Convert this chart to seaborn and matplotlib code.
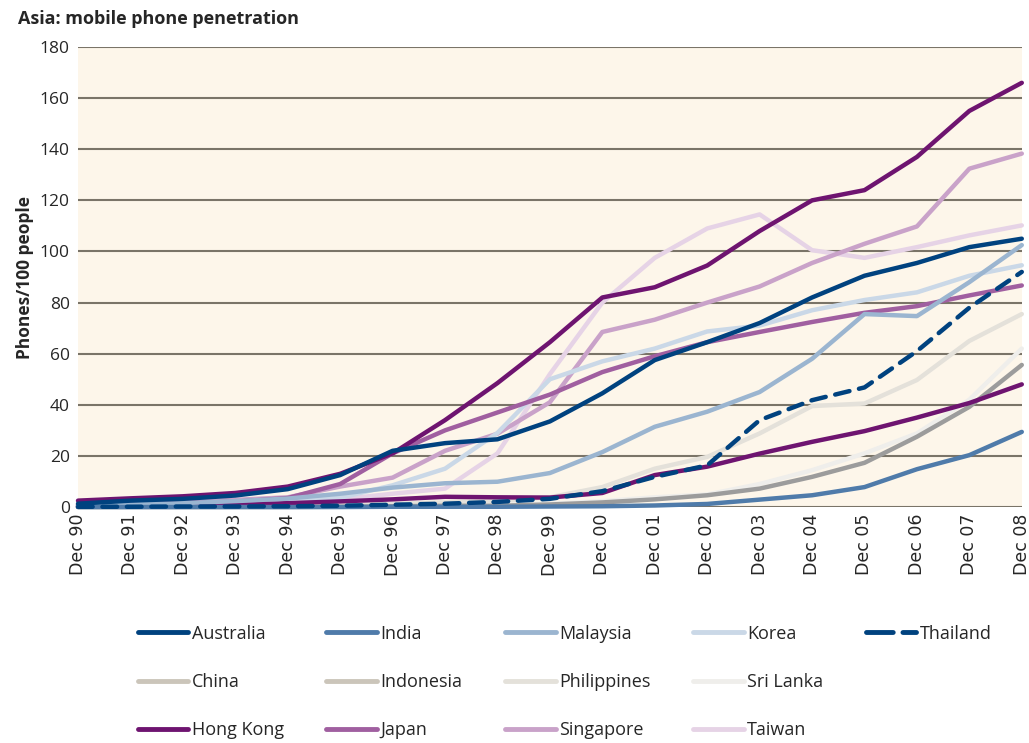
import numpy as np
import pandas as pd
import matplotlib
matplotlib.use("Agg")
import matplotlib.pyplot as plt
import seaborn as sns
from matplotlib.lines import Line2D

# x axis labels
years = ["Dec 90", "Dec 91", "Dec 92", "Dec 93", "Dec 94", "Dec 95", "Dec 96",
         "Dec 97", "Dec 98", "Dec 99", "Dec 00", "Dec 01", "Dec 02", "Dec 03",
         "Dec 04", "Dec 05", "Dec 06", "Dec 07", "Dec 08"]

# phones per 100 people
australia = [1.3, 2.5, 3.2, 4.5, 7, 12.5, 22, 25, 26.5, 33.5, 44.5, 57.5, 64.5, 72, 82, 90.5, 95.5, 101.7, 105]
india = [0, 0, 0, 0, 0, 0, 0.1, 0.1, 0.1, 0.2, 0.3, 0.6, 1.2, 2.9, 4.6, 7.8, 14.8, 20.3, 29.4]
malaysia = [0.5, 1.0, 1.5, 2.3, 3.3, 5.2, 7.6, 9.3, 9.9, 13.3, 21.5, 31.4, 37.3, 45, 58, 75.5, 74.7, 88, 102.5]
korea = [0.2, 0.4, 0.6, 1.0, 2.2, 3.6, 8.5, 15, 29, 50, 57, 62, 68.7, 71, 77, 81, 84, 90.5, 94.6]
thailand = [0.1, 0.1, 0.2, 0.2, 0.3, 0.5, 0.9, 1.3, 2.0, 3.2, 6.2, 11.8, 16.3, 34, 41.8, 46.8, 61, 78, 92]
china = [0.1, 0.2, 0.4, 0.8, 1.5, 2.2, 3.0, 4.0, 3.8, 3.7, 5.5, 12.5, 15.8, 20.9, 25.5, 29.7, 35, 40.7, 48]
indonesia = [0, 0, 0, 0, 0, 0.1, 0.3, 0.5, 0.5, 1.0, 1.8, 3.0, 4.6, 7.2, 11.8, 17.3, 27.5, 39.2, 55.6]
philippines = [0, 0.1, 0.2, 0.3, 0.3, 0.6, 1.2, 1.8, 2.4, 3.8, 7.8, 15, 19.6, 28.8, 39.5, 40.5, 49.7, 65, 75.5]
sri_lanka = [0, 0, 0, 0.1, 0.2, 0.3, 0.4, 0.7, 0.9, 1.3, 2.3, 3.8, 4.9, 9, 14.4, 21, 28.8, 42, 62]
hong_kong = [2.5, 3.4, 4.2, 5.5, 8, 13, 21, 34, 48.5, 64.5, 82, 86, 94.5, 108, 120, 124, 137, 155, 166]
japan = [0.7, 1.2, 1.5, 2.1, 3.5, 9, 21, 30, 37, 44, 52.8, 59, 64.5, 68.5, 72.4, 76, 78.6, 82.8, 86.7]
singapore = [1.0, 1.5, 2.0, 2.8, 3.8, 8, 11.5, 22, 28.7, 41, 68.5, 73.3, 80, 86.3, 95.5, 103, 109.8, 132.4, 138.3]
taiwan = [0.5, 0.7, 1.0, 1.4, 2.0, 3.0, 5.2, 7.2, 21, 52, 80, 97.5, 109, 114.5, 100.5, 97.5, 101.7, 106.3, 110.2]

series = {
    "Australia": australia, "India": india, "Malaysia": malaysia, "Korea": korea,
    "Thailand": thailand, "China": china, "Indonesia": indonesia,
    "Philippines": philippines, "Sri Lanka": sri_lanka, "Hong Kong": hong_kong,
    "Japan": japan, "Singapore": singapore, "Taiwan": taiwan,
}

# legend colours
legend_colors = {
    "Australia": "#00427f", "India": "#4f7baa", "Malaysia": "#9bb5d0",
    "Korea": "#cad8e7", "Thailand": "#00427f", "China": "#cbc5ba",
    "Indonesia": "#cbc5ba", "Philippines": "#e4e1da", "Sri Lanka": "#efeeeb",
    "Hong Kong": "#6e1470", "Japan": "#a05fa0", "Singapore": "#c9a2c9",
    "Taiwan": "#e6d3e6",
}
# colours the lines actually have in the plot
line_colors = dict(legend_colors)
line_colors["China"] = "#6e1470"
line_colors["Indonesia"] = "#9c9c9c"

draw_order = ["Sri Lanka", "Philippines", "Indonesia", "Taiwan", "Singapore",
              "Korea", "Japan", "Hong Kong", "China", "Malaysia", "India",
              "Australia", "Thailand"]

rows = []
for name, vals in series.items():
    for i, v in enumerate(vals):
        rows.append({"country": name, "x": i, "value": v})
df = pd.DataFrame(rows)

sns.set_style("white")
plt.rcParams["font.family"] = ["Open Sans", "DejaVu Sans"]

fig = plt.figure(figsize=(10.29, 7.43), dpi=100)
ax = fig.add_axes([0.0758, 0.3176, 0.9172, 0.6191])
ax.set_facecolor("#fdf6ea")

for name in draw_order:
    sub = df[df["country"] == name]
    ls = (0, (3.3, 2.2)) if name == "Thailand" else "-"
    sns.lineplot(data=sub, x="x", y="value", ax=ax, color=line_colors[name],
                 linewidth=3.2, linestyle=ls, legend=False, clip_on=False,
                 solid_capstyle="round", dash_capstyle="round", zorder=3)

ax.set_xlim(0, 18)
ax.set_ylim(0, 180)
ax.set_yticks(np.arange(0, 181, 20))
ax.set_xticks(range(len(years)))
ax.set_xticklabels(years, rotation=90, fontsize=12.5, family="DejaVu Sans")
ax.tick_params(axis="y", labelsize=12.5, length=0, pad=6)
ax.tick_params(axis="x", length=0, pad=5)
ax.yaxis.grid(True, color="#7a7468", linewidth=1.5)
ax.set_axisbelow(True)
for s in ax.spines.values():
    s.set_visible(False)
ax.set_xlabel("")
ax.set_ylabel("Phones/100 people", fontsize=12.5, fontweight="bold", labelpad=4)

fig.text(0.0175, 0.975, "Asia: mobile phone penetration", fontsize=13,
         fontweight="bold", va="center", ha="left")

# legend, filled column by column
legend_cols = [["Australia", "China", "Hong Kong"], ["India", "Indonesia", "Japan"],
               ["Malaysia", "Philippines", "Singapore"], ["Korea", "Sri Lanka", "Taiwan"],
               ["Thailand", None, None]]
handles, labels = [], []
for col in legend_cols:
    for name in col:
        if name is None:
            handles.append(Line2D([], [], color="none"))
            labels.append("")
        else:
            ls = (0, (5.5, 2.0)) if name == "Thailand" else "-"
            handles.append(Line2D([], [], color=legend_colors[name], linewidth=3.5,
                                  linestyle=ls, solid_capstyle="round",
                                  dash_capstyle="round"))
            labels.append(name)
fig.legend(handles, labels, ncol=5, loc="upper left",
           bbox_to_anchor=(0.118, 0.181), frameon=False, fontsize=13,
           handlelength=2.8, handletextpad=0.2, columnspacing=2.35,
           labelspacing=1.68)

fig.savefig("out.png", dpi=100)
